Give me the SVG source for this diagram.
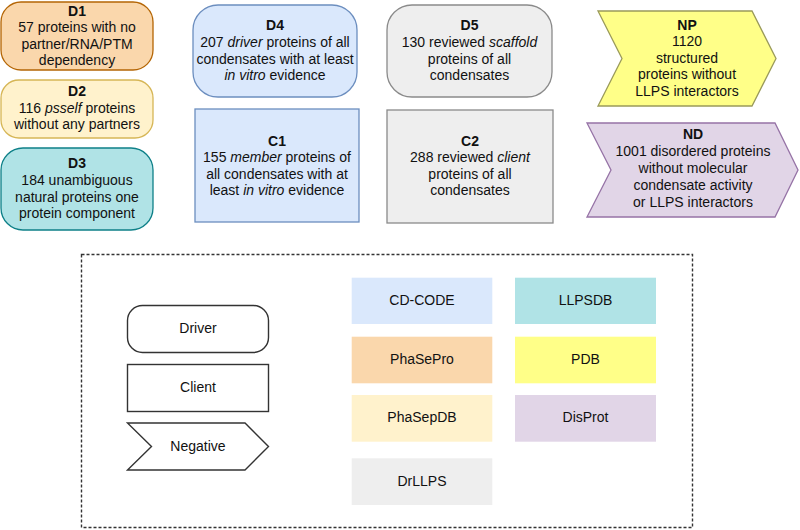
<svg xmlns="http://www.w3.org/2000/svg" width="800" height="530" viewBox="0 0 800 530">
<style>
text{font-family:"Liberation Sans",Arial,sans-serif;font-size:14px;fill:#111;text-anchor:middle}
.b{font-weight:bold}
.i{font-style:italic}
.s{stroke-width:1.3}
.leg{fill:#fff;stroke:#333;stroke-width:1.4}
</style>
<rect width="800" height="530" fill="#fff"/>

<g id="D1">
<rect class="s" x="1" y="2" width="152" height="68" rx="20" fill="#fad7ac" stroke="#b46504"/>
<text x="77" y="15.7" class="b">D1</text>
<text x="77" y="32.3">57 proteins with no</text>
<text x="77" y="48.7">partner/RNA/PTM</text>
<text x="77" y="65">dependency</text>
</g>
<g id="D2">
<rect class="s" x="1" y="80" width="152" height="58" rx="18" fill="#fff2cc" stroke="#d6b656"/>
<text x="77" y="96" class="b">D2</text>
<text x="77" y="112.5">116 <tspan class="i">psself</tspan> proteins</text>
<text x="77" y="129">without any partners</text>
</g>
<g id="D3">
<rect class="s" x="1" y="148" width="152" height="82" rx="22" fill="#b0e3e6" stroke="#0e8088"/>
<text x="77" y="168" class="b">D3</text>
<text x="77" y="185">184 unambiguous</text>
<text x="77" y="201.5">natural proteins one</text>
<text x="77" y="218">protein component</text>
</g>
<g id="D4">
<rect class="s" x="193" y="5" width="164" height="92" rx="25" fill="#dae8fc" stroke="#6c8ebf"/>
<text x="275" y="30" class="b">D4</text>
<text x="275" y="47">207 <tspan class="i">driver</tspan> proteins of all</text>
<text x="275" y="63.5">condensates with at least</text>
<text x="275" y="80"><tspan class="i">in vitro</tspan> evidence</text>
</g>
<g id="C1">
<rect class="s" x="195" y="109" width="164" height="113" fill="#dae8fc" stroke="#6c8ebf"/>
<text x="277" y="145.5" class="b">C1</text>
<text x="277" y="162">155 <tspan class="i">member</tspan> proteins of</text>
<text x="277" y="178.5">all condensates with at</text>
<text x="277" y="195">least <tspan class="i">in vitro</tspan> evidence</text>
</g>
<g id="D5">
<rect class="s" x="387" y="5" width="165" height="92" rx="25" fill="#eeeeee" stroke="#8a8a8a"/>
<text x="469.5" y="30" class="b">D5</text>
<text x="469.5" y="47">130 reviewed <tspan class="i">scaffold</tspan></text>
<text x="469.5" y="63.5">proteins of all</text>
<text x="469.5" y="80">condensates</text>
</g>
<g id="C2">
<rect class="s" x="387" y="110" width="166" height="113" fill="#eeeeee" stroke="#8a8a8a"/>
<text x="470" y="145.5" class="b">C2</text>
<text x="470" y="162">288 reviewed <tspan class="i">client</tspan></text>
<text x="470" y="178.5">proteins of all</text>
<text x="470" y="195">condensates</text>
</g>
<g id="NP">
<polygon class="s" points="598,11 752,11 776,58.5 752,106 598,106 622,58.5" fill="#ffff88" stroke="#9a9a5a"/>
<text x="687" y="29.5" class="b">NP</text>
<text x="687" y="46">1120</text>
<text x="687" y="62.5">structured</text>
<text x="687" y="79">proteins without</text>
<text x="687" y="95.5">LLPS interactors</text>
</g>
<g id="ND">
<polygon class="s" points="587,123 775,123 798,170 775,217 587,217 611,170" fill="#e1d5e7" stroke="#9673a6"/>
<text x="693" y="139" class="b">ND</text>
<text x="693" y="156">1001 disordered proteins</text>
<text x="693" y="173">without molecular</text>
<text x="693" y="190">condensate activity</text>
<text x="693" y="207">or LLPS interactors</text>
</g>

<g id="legend">
<rect x="81.5" y="254.5" width="611" height="273" fill="none" stroke="#333" stroke-width="1.4" stroke-dasharray="3,2"/>
<g id="leg-driver">
<rect class="leg" x="127.5" y="305.5" width="141" height="47" rx="15"/>
<text x="198" y="333.3">Driver</text>
</g>
<g id="leg-client">
<rect class="leg" x="127.5" y="364.5" width="141" height="47"/>
<text x="198" y="391.7">Client</text>
</g>
<g id="leg-negative">
<polygon class="leg" points="127.5,423 245,423 268.5,446.5 245,470 127.5,470 151.5,446.5"/>
<text x="198" y="450.5">Negative</text>
</g>
<g id="db-cdcode"><rect x="351.7" y="277.7" width="140.6" height="46.3" fill="#dae8fc"/><text x="422" y="305">CD-CODE</text></g>
<g id="db-phasepro"><rect x="351.7" y="336.7" width="140.6" height="46.6" fill="#fad7ac"/><text x="422" y="364">PhaSePro</text></g>
<g id="db-phasepdb"><rect x="351.7" y="395" width="140.6" height="46.7" fill="#fff2cc"/><text x="422" y="422.3">PhaSepDB</text></g>
<g id="db-drllps"><rect x="351.7" y="458.3" width="140.6" height="46.7" fill="#eeeeee"/><text x="422" y="485.7">DrLLPS</text></g>
<g id="db-llpsdb"><rect x="515" y="277.7" width="141" height="46.3" fill="#b0e3e6"/><text x="585.5" y="305">LLPSDB</text></g>
<g id="db-pdb"><rect x="515" y="336.7" width="141" height="46.6" fill="#ffff88"/><text x="585.5" y="364">PDB</text></g>
<g id="db-disprot"><rect x="515" y="395" width="141" height="46.7" fill="#e1d5e7"/><text x="585.5" y="422.3">DisProt</text></g>
</g>
</svg>
